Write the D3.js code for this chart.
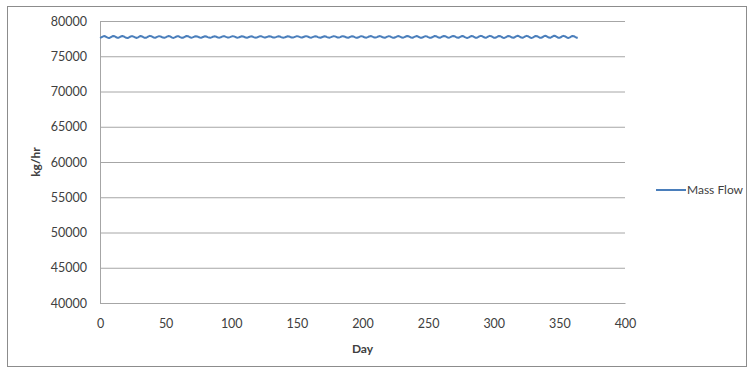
<!DOCTYPE html>
<html>
<head>
<meta charset="utf-8">
<script src="https://cdn.jsdelivr.net/npm/d3@7"></script>
<style>
  html, body { margin: 0; padding: 0; background: #fff; }
  svg { display: block; font-family: Lato, "Open Sans", "Liberation Sans", sans-serif; }
</style>
</head>
<body>
<svg id="chart" width="754" height="368"></svg>
<script>
// Daily mass flow through the year (kg/hr), day 0 .. 364
const massFlow = [
  77600,77680,77790,77860,77830,77720,77630,
  77590,77670,77780,77870,77840,77730,77640,
  77610,77700,77810,77880,77820,77710,77620,
  77580,77660,77770,77850,77830,77740,77650,
  77600,77690,77800,77870,77810,77700,77610,
  77620,77710,77820,77890,77850,77750,77660,
  77630,77700,77790,77850,77820,77730,77650,
  77610,77680,77780,77860,77840,77740,77640,
  77600,77670,77770,77850,77830,77720,77630,
  77620,77700,77800,77880,77850,77750,77660,
  77640,77710,77790,77840,77810,77730,77660,
  77630,77690,77770,77830,77800,77720,77650,
  77620,77680,77760,77820,77810,77730,77660,
  77640,77700,77780,77840,77820,77740,77670,
  77650,77710,77790,77850,77820,77740,77660,
  77640,77700,77770,77830,77810,77730,77650,
  77630,77690,77760,77820,77800,77720,77650,
  77640,77700,77780,77840,77820,77740,77670,
  77660,77720,77790,77840,77810,77730,77660,
  77650,77710,77780,77830,77800,77720,77650,
  77640,77700,77770,77830,77810,77730,77660,
  77650,77720,77790,77850,77820,77740,77670,
  77660,77730,77800,77850,77820,77730,77660,
  77640,77710,77780,77840,77810,77720,77650,
  77630,77700,77770,77830,77800,77720,77650,
  77640,77710,77790,77850,77820,77740,77660,
  77650,77720,77800,77850,77810,77730,77650,
  77630,77700,77780,77840,77810,77720,77640,
  77620,77690,77780,77850,77820,77730,77650,
  77640,77710,77800,77860,77830,77740,77660,
  77650,77720,77800,77860,77820,77730,77650,
  77630,77700,77790,77850,77820,77720,77640,
  77620,77690,77780,77860,77830,77740,77650,
  77640,77710,77800,77870,77840,77750,77660,
  77630,77700,77790,77860,77830,77730,77640,
  77620,77690,77780,77850,77820,77720,77630,
  77610,77690,77790,77870,77840,77740,77650,
  77630,77710,77810,77880,77850,77750,77660,
  77640,77720,77820,77880,77840,77740,77650,
  77620,77700,77800,77870,77830,77720,77630,
  77600,77680,77790,77870,77840,77730,77640,
  77610,77700,77810,77890,77860,77760,77660,
  77630,77710,77820,77890,77850,77740,77640,
  77610,77690,77800,77880,77840,77730,77630,
  77600,77680,77790,77880,77850,77750,77650,
  77620,77700,77820,77900,77860,77760,77660,
  77630,77710,77820,77890,77840,77730,77630,
  77600,77680,77800,77880,77850,77740,77640,
  77610,77690,77810,77900,77870,77760,77650,
  77620,77710,77830,77910,77860,77750,77640,
  77610,77690,77810,77890,77850,77740,77630,
  77600,77680,77800,77880,77850,77740,77640,
  77620
];
const days = massFlow.map((_, i) => i);

const yTicks = [40000, 45000, 50000, 55000, 60000, 65000, 70000, 75000, 80000];
const xTicks = [0, 50, 100, 150, 200, 250, 300, 350, 400];
const seriesName = "Mass Flow";
const xTitle = "Day";
const yTitle = "kg/hr";

const svg = d3.select("#chart");
const plot = { left: 100, right: 625, top: 21, bottom: 303 };

const x = d3.scaleLinear().domain([0, 400]).range([plot.left, plot.right]);
const y = d3.scaleLinear().domain([40000, 80000]).range([plot.bottom, plot.top]);

const textColor = "#404040";
const gridColor = "#a6a6a6";

// Chart frame
svg.append("rect")
  .attr("x", 7.5).attr("y", 6.5)
  .attr("width", 739).attr("height", 360)
  .attr("fill", "#fff")
  .attr("stroke", "#8c8c8c")
  .attr("stroke-width", 1);

// Horizontal gridlines + y tick labels
const yAxis = d3.axisLeft(y).tickValues(yTicks).tickSize(-(plot.right - plot.left)).tickPadding(13)
  .tickFormat(d3.format("d"));
const gy = svg.append("g").attr("transform", `translate(${plot.left},0)`).call(yAxis);
gy.select(".domain").attr("stroke", gridColor);
gy.selectAll(".tick line").attr("stroke", gridColor).attr("stroke-width", 1);
gy.selectAll(".tick text").attr("fill", textColor).style("font-size", "12.5px")
  .style("font-family", "Lato, 'Open Sans', sans-serif");

// X axis labels
const xAxis = d3.axisBottom(x).tickValues(xTicks).tickSize(0).tickPadding(16).tickFormat(d3.format("d"));
const gx = svg.append("g").attr("transform", `translate(0,${plot.bottom})`).call(xAxis);
gx.select(".domain").attr("stroke", gridColor);
gx.selectAll(".tick text").attr("fill", textColor).style("font-size", "12.5px")
  .style("font-family", "Lato, 'Open Sans', sans-serif");

// Series line
const line = d3.line().x((d, i) => x(days[i])).y(d => y(d));
svg.append("path")
  .datum(massFlow)
  .attr("fill", "none")
  .attr("stroke", "#4a7ebb")
  .attr("stroke-width", 2)
  .attr("stroke-linejoin", "round")
  .attr("d", line);

// Axis titles
svg.append("text")
  .attr("x", (plot.left + plot.right) / 2)
  .attr("y", 353)
  .attr("text-anchor", "middle")
  .attr("fill", textColor)
  .style("font-size", "12px")
  .style("font-weight", "bold")
  .text(xTitle);

svg.append("text")
  .attr("transform", `translate(40,${(plot.top + plot.bottom) / 2}) rotate(-90)`)
  .attr("text-anchor", "middle")
  .attr("fill", textColor)
  .style("font-size", "12px")
  .style("font-weight", "bold")
  .text(yTitle);

// Legend
const lg = svg.append("g").attr("transform", "translate(656,190)");
lg.append("line").attr("x1", 0).attr("x2", 30).attr("y1", 0).attr("y2", 0)
  .attr("stroke", "#4a7ebb").attr("stroke-width", 2);
lg.append("text").attr("x", 31).attr("y", 4)
  .attr("fill", textColor).style("font-size", "12px").text(seriesName);
</script>
</body>
</html>
